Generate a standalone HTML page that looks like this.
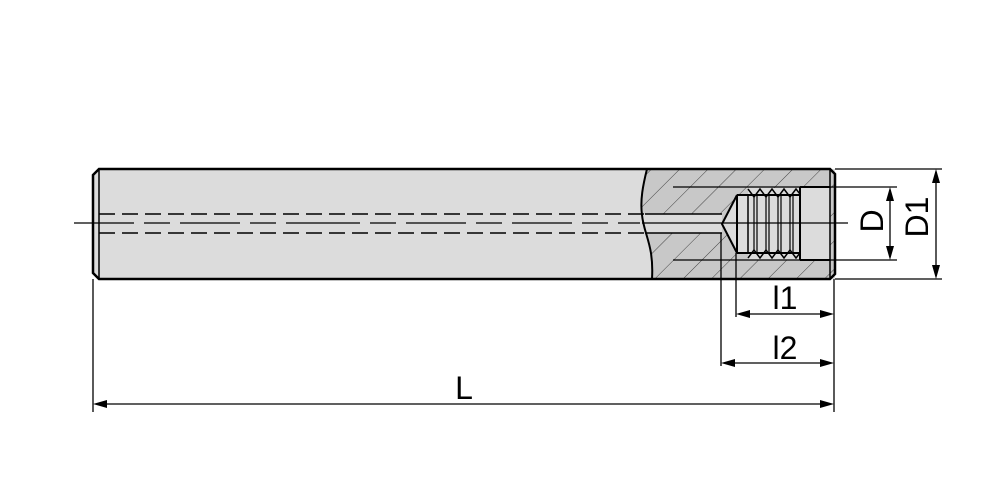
<!DOCTYPE html>
<html><head><style>body{margin:0;background:#fff}svg{display:block}</style></head><body>
<svg width="1000" height="500" viewBox="0 0 1000 500" xmlns="http://www.w3.org/2000/svg">
<defs>
<pattern id="h" patternUnits="userSpaceOnUse" width="20" height="20" patternTransform="rotate(45)">
<rect width="20" height="20" fill="#c8c8c8"/>
<line x1="0" y1="0" x2="0" y2="20" stroke="#444" stroke-width="1"/>
</pattern>
</defs>
<path d="M99,169 L835,169 L835,279 L99,279 L93,273 L93,175 Z" fill="#dcdcdc"/>
<path d="M647,169 C643,185 640,200 642,215 C644,235 654,245 652,279 L830,279 L835,274 L835,174 L830,169 Z" fill="url(#h)"/>
<path d="M642,214 L722,214 L722,233 L645,233 Z" fill="#dcdcdc"/>
<path d="M721,224 L737,195 L748,195 L748,188 L800,188 L800,187 L830,187 L830,260 L800,260 L748,260 L748,253 L737,253 Z" fill="#dcdcdc"/>
<g stroke="#000" fill="none">
<path d="M99,169 L830,169 L835,174 L835,274 L830,279 L99,279 L93,273 L93,175 Z" stroke-width="2.5"/>
<line x1="99" y1="169" x2="99" y2="279" stroke-width="1.5"/>
<path d="M647,169 C643,185 640,200 642,215 C644,235 654,245 652,279" stroke-width="2"/>
<line x1="830" y1="169" x2="830" y2="279" stroke-width="1.5"/>
<line x1="99" y1="214" x2="645" y2="214" stroke-width="1.5" stroke-dasharray="16,7"/>
<line x1="99" y1="233" x2="645" y2="233" stroke-width="1.5" stroke-dasharray="16,7"/>
<line x1="74" y1="223" x2="300" y2="223" stroke-width="1.3" stroke-dasharray="60,10,26,10"/>
<line x1="300" y1="223" x2="640" y2="223" stroke-width="1.3" stroke-dasharray="60,10,26,10"/>
<line x1="645" y1="214" x2="722" y2="214" stroke-width="1.5"/>
<line x1="645" y1="233" x2="722" y2="233" stroke-width="1.5"/>
<line x1="642" y1="223" x2="848" y2="223" stroke-width="1.2"/>
<path d="M722,224 L737,195 L737,253 Z" stroke-width="2"/>
<path d="M737,195 L800,195 M737,253 L800,253" stroke-width="2"/>
<path d="M748,195 L748,253" stroke-width="1.5"/>
<path d="M800,187 L800,260 M800,187 L830,187 M800,260 L830,260" stroke-width="2"/>
<path d="M673,187 L897,187 M673,260 L897,260" stroke-width="1.3"/>
<path d="M748,189 L754,197 L760,189 L766,197 L772,189 L778,197 L784,189 L790,197 L796,189 L800,194" stroke-width="1.5"/>
<path d="M748,258 L754,250 L760,258 L766,250 L772,258 L778,250 L784,258 L790,250 L796,258 L800,253" stroke-width="1.5"/>
<path d="M754,197 L754,250 M757,194 L757,253 M766,197 L766,250 M769,194 L769,253 M778,197 L778,250 M781,194 L781,253 M790,197 L790,250 M793,194 L793,253" stroke-width="1.2"/>
<line x1="835" y1="169" x2="942" y2="169" stroke-width="1.3"/>
<line x1="835" y1="279" x2="942" y2="279" stroke-width="1.3"/>
<line x1="93" y1="279" x2="93" y2="412" stroke-width="1.3"/>
<line x1="834" y1="279" x2="834" y2="412" stroke-width="1.3"/>
<line x1="721" y1="233" x2="721" y2="366" stroke-width="1.3"/>
<line x1="736" y1="253" x2="736" y2="317" stroke-width="1.3"/>
<line x1="936" y1="172" x2="936" y2="276" stroke-width="1.3"/>
<line x1="890" y1="190" x2="890" y2="257" stroke-width="1.3"/>
<line x1="740" y1="314" x2="830" y2="314" stroke-width="1.3"/>
<line x1="725" y1="363" x2="830" y2="363" stroke-width="1.3"/>
<line x1="97" y1="404" x2="830" y2="404" stroke-width="1.3"/>
</g>
<g fill="#000">
<path d="M936,169 L932,183 L940,183 Z M936,279 L932,265 L940,265 Z"/>
<path d="M890,187 L886,201 L894,201 Z M890,260 L886,246 L894,246 Z"/>
<path d="M736,314 L750,310 L750,318 Z M834,314 L820,310 L820,318 Z"/>
<path d="M721,363 L735,359 L735,367 Z M834,363 L820,359 L820,367 Z"/>
<path d="M93,404 L107,400 L107,408 Z M834,404 L820,400 L820,408 Z"/>
</g>
<g font-family="Liberation Sans, sans-serif" font-size="32" fill="#000" text-anchor="middle">
<text x="785" y="309">l1</text>
<text x="785" y="359">l2</text>
<text x="464" y="399">L</text>
<text transform="translate(883,221) rotate(-90)">D</text>
<text transform="translate(928,217) rotate(-90)">D1</text>
</g>
</svg>
</body></html>
